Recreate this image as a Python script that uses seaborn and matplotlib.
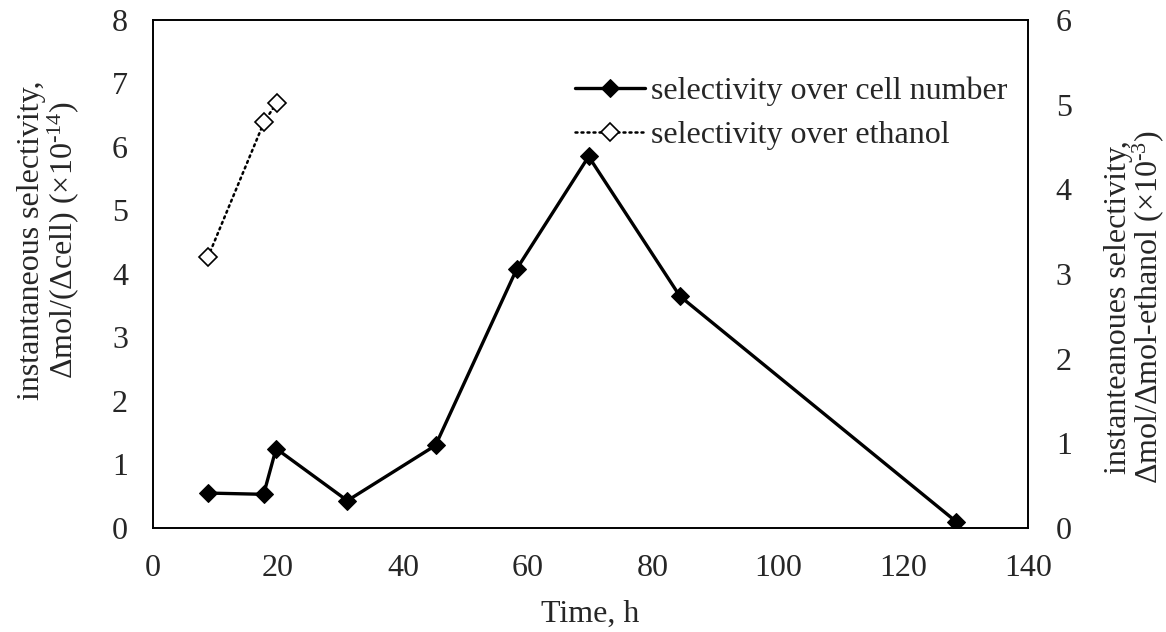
import matplotlib
matplotlib.use("Agg")
import matplotlib.pyplot as plt
import seaborn as sns
import pandas as pd

# Selectivity over cell number (left axis, x10^-14)
time_cell = [8.8, 17.7, 19.7, 31.1, 45.2, 58.2, 69.7, 84.3, 128.5]
sel_cell = [0.55, 0.53, 1.25, 0.43, 1.30, 4.08, 5.85, 3.65, 0.10]

# Selectivity over ethanol (right axis, x10^-3)
time_eth = [8.8, 17.8, 19.8]
sel_eth = [3.20, 4.80, 5.02]

x_ticks = [0, 20, 40, 60, 80, 100, 120, 140]
left_ticks = [0, 1, 2, 3, 4, 5, 6, 7, 8]
right_ticks = [0, 1, 2, 3, 4, 5, 6]

FS = 23

sns.set_style("white")
plt.rcParams["font.family"] = ["Liberation Serif", "DejaVu Serif"]
plt.rcParams["mathtext.fontset"] = "custom"
plt.rcParams["mathtext.rm"] = "Liberation Serif"
plt.rcParams["mathtext.it"] = "Liberation Serif:italic"
plt.rcParams["font.size"] = FS

df_cell = pd.DataFrame({"t": time_cell, "s": sel_cell})
df_eth = pd.DataFrame({"t": time_eth, "s": sel_eth})

fig, ax = plt.subplots(figsize=(11.66, 6.32), dpi=100)
fig.subplots_adjust(left=0.1312, right=0.8817, top=0.9684, bottom=0.1646)
ax2 = ax.twinx()

sns.lineplot(data=df_cell, x="t", y="s", ax=ax, color="black", linewidth=2.4,
             marker="D", markersize=9, markeredgecolor="black",
             markerfacecolor="black", legend=False, sort=False)
sns.lineplot(data=df_eth, x="t", y="s", ax=ax2, color="black", linewidth=1.8,
             linestyle=(0, (0.8, 1.6)), dash_capstyle="round",
             marker="D", markersize=9.5, markeredgecolor="black",
             markerfacecolor="white", markeredgewidth=1.2, legend=False, sort=False)

ax.set_xlim(0, 140)
ax.set_ylim(0, 8)
ax2.set_ylim(0, 6)
ax.set_xticks(x_ticks)
ax.set_yticks(left_ticks)
ax2.set_yticks(right_ticks)

for a in (ax, ax2):
    for sp in a.spines.values():
        sp.set_visible(True)
        sp.set_color("black")
        sp.set_linewidth(1.2)
    a.grid(False)
ax.tick_params(axis="x", length=0, pad=19, labelsize=FS)
ax.tick_params(axis="y", length=0, pad=18, labelsize=FS)
ax2.tick_params(axis="y", length=0, pad=20, labelsize=FS)

ax.set_xlabel("Time, h", fontsize=FS, labelpad=12)
ax.set_ylabel("instantaneous selectivity,\n$\\Delta$mol/($\\Delta$cell) ($\\times$10$^{\\text{-14}}$)",
              fontsize=FS, labelpad=22, linespacing=1.0)
ax2.set_ylabel("instanteanoues selectivity,\n$\\Delta$mol/$\\Delta$mol-ethanol ($\\times$10$^{\\text{-3}}$)",
               fontsize=FS, labelpad=23, linespacing=0.92, rotation=90)
# axis titles sit off-centre along their axes
ax.yaxis.label.set_y(0.567)
ax2.yaxis.label.set_y(0.435)

handles = [ax.lines[0], ax2.lines[0]]
labels = ["selectivity over cell number", "selectivity over ethanol"]
ax.legend(handles, labels, loc="upper left", bbox_to_anchor=(0.482, 0.899),
          bbox_transform=fig.transFigure, frameon=False, fontsize=FS,
          handlelength=2.2, handletextpad=0.2, labelspacing=0.45, borderaxespad=0)

fig.savefig("out.png", dpi=100)
